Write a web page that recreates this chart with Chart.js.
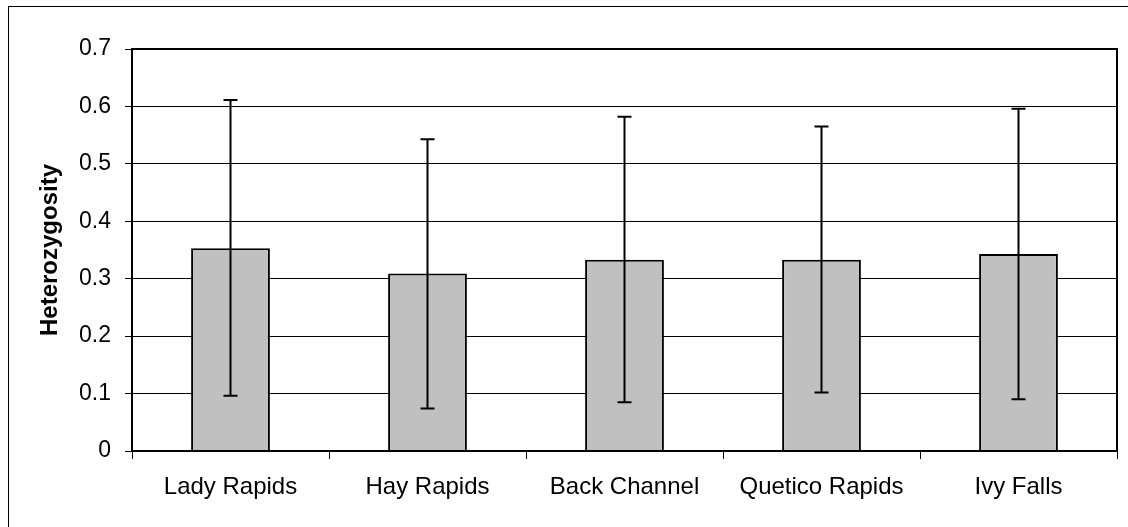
<!DOCTYPE html>
<html>
<head>
<meta charset="utf-8">
<script src="https://cdn.jsdelivr.net/npm/chart.js@4.4.0/dist/chart.umd.min.js"></script>
<style>
  html, body { margin: 0; padding: 0; background: #fff; }
  #wrap { width: 1128px; height: 527px; }
</style>
</head>
<body>
<div id="wrap"><canvas id="myChart" width="1128" height="527"></canvas></div>
<script>
// data
var sites = ["Lady Rapids", "Hay Rapids", "Back Channel", "Quetico Rapids", "Ivy Falls"];
var heterozygosity = [0.353, 0.309, 0.333, 0.333, 0.343];
var errUp = [0.258, 0.234, 0.249, 0.232, 0.253];
var errDown = [0.257, 0.235, 0.248, 0.231, 0.253];
var yTicks = [0, 0.1, 0.2, 0.3, 0.4, 0.5, 0.6, 0.7];

// error bars + plot frame + outer frame
var extras = {
  id: "extras",
  afterDatasetsDraw: function (chart) {
    var ctx = chart.ctx;
    var x = chart.scales.x;
    var y = chart.scales.y;
    var area = chart.chartArea;
    ctx.save();
    ctx.strokeStyle = "#000";
    ctx.lineWidth = 2;
    for (var i = 0; i < sites.length; i++) {
      var cx = x.getPixelForValue(i);
      var top = y.getPixelForValue(heterozygosity[i] + errUp[i]);
      var bot = y.getPixelForValue(heterozygosity[i] - errDown[i]);
      ctx.beginPath();
      ctx.moveTo(cx, top);
      ctx.lineTo(cx, bot);
      ctx.moveTo(cx - 7, top);
      ctx.lineTo(cx + 7, top);
      ctx.moveTo(cx - 7, bot);
      ctx.lineTo(cx + 7, bot);
      ctx.stroke();
    }
    ctx.strokeRect(area.left, area.top, area.right - area.left, area.bottom - area.top);
    ctx.lineWidth = 1;
    ctx.strokeRect(8.5, 6.5, 1130, 530);
    ctx.restore();
  }
};

Chart.defaults.font.family = "'Liberation Sans', Arial, sans-serif";
Chart.defaults.color = "#000";

var ctx = document.getElementById("myChart").getContext("2d");
var myChart = new Chart(ctx, {
  type: "bar",
  data: {
    labels: sites,
    datasets: [
      {
        data: heterozygosity,
        backgroundColor: "#c0c0c0",
        borderColor: "#000",
        borderWidth: 2,
        barPercentage: 0.4,
        categoryPercentage: 1,
      },
    ],
  },
  options: {
    responsive: false,
    animation: false,
    layout: { padding: { top: 49, right: 11, left: 0, bottom: 0 } },
    plugins: { legend: { display: false }, tooltip: { enabled: false } },
    scales: {
      x: {
        offset: true,
        grid: {
          offset: true,
          drawOnChartArea: false,
          color: "#000",
          tickLength: 8,
        },
        border: { color: "#000", width: 2 },
        ticks: { font: { size: 24 }, padding: 14, maxRotation: 0 },
        afterFit: function (scale) {
          scale.height = 76;
        },
      },
      y: {
        min: 0,
        max: 0.7,
        afterBuildTicks: function (scale) {
          scale.ticks = yTicks.map(function (v) { return { value: v }; });
        },
        grid: { color: "#000", lineWidth: 1, tickLength: 7 },
        border: { color: "#000", width: 2 },
        ticks: {
          font: { size: 23 },
          padding: 14,
          callback: function (v) { return String(Math.round(v * 10) / 10); },
        },
        title: {
          display: true,
          text: "Heterozygosity",
          font: { size: 24, weight: "bold" },
          padding: { top: 36, bottom: 0 },
        },
        afterFit: function (scale) {
          scale.width = 132;
        },
      },
    },
  },
  plugins: [extras],
});
</script>
</body>
</html>
